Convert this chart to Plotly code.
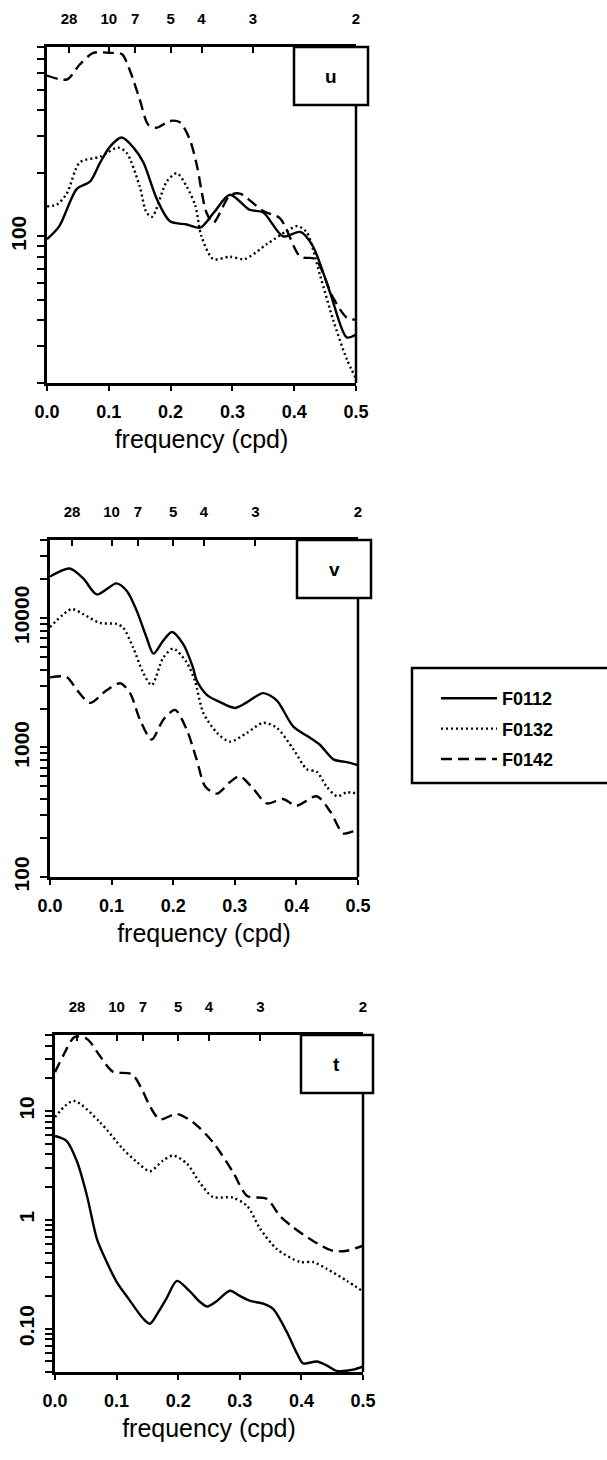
import plotly.graph_objects as go
import math

# ---------------- data ----------------
SERIES = ["F0112", "F0132", "F0142"]

period_ticks = [1/28, 1/10, 1/7, 1/5, 1/4, 1/3, 1/2]
period_labels = ["28", "10", "7", "5", "4", "3", "2"]
freq_ticks = [0.0, 0.1, 0.2, 0.3, 0.4, 0.5]
freq_labels = ["0.0", "0.1", "0.2", "0.3", "0.4", "0.5"]

# u component
u_f0112_f = [0, 0.02, 0.048, 0.07, 0.086, 0.102, 0.121, 0.14, 0.156, 0.178, 0.199, 0.226, 0.248,
             0.27, 0.296, 0.328, 0.35, 0.382, 0.41, 0.43, 0.458, 0.485, 0.5]
u_f0112 = [97, 112, 168, 183, 225, 268, 296, 265, 225, 150, 118, 114, 110,
           130, 158, 134, 130, 100, 105, 90, 54, 33, 34]
u_f0132_f = [0, 0.016, 0.032, 0.053, 0.086, 0.115, 0.129, 0.15, 0.161, 0.17, 0.194, 0.21, 0.226,
             0.24, 0.25, 0.269, 0.296, 0.32, 0.356, 0.388, 0.405, 0.42, 0.442, 0.463, 0.485, 0.5]
u_f0132 = [139, 142, 160, 225, 240, 265, 250, 173, 130, 124, 183, 200, 173,
           140, 100, 78, 80, 78, 92, 106, 112, 105, 65, 40, 26, 21]
u_f0142_f = [0, 0.032, 0.053, 0.075, 0.102, 0.121, 0.134, 0.15, 0.164, 0.178, 0.199, 0.215, 0.231,
             0.243, 0.25, 0.258, 0.269, 0.296, 0.312, 0.35, 0.377, 0.41, 0.434, 0.463, 0.485, 0.5]
u_f0142 = [585, 560, 660, 750, 750, 740, 620, 450, 340, 330, 355, 350, 290,
           215, 165, 130, 116, 157, 160, 132, 122, 80, 78, 51, 41, 40]

# v component
v_f0112_f = [0, 0.032, 0.054, 0.076, 0.108, 0.125, 0.141, 0.157, 0.168, 0.184, 0.198, 0.216, 0.232,
             0.238, 0.255, 0.276, 0.3, 0.32, 0.346, 0.368, 0.395, 0.422, 0.438, 0.46, 0.482, 0.5]
v_f0112 = [20900, 24100, 20200, 15200, 18500, 16100, 11300, 7000, 5300, 6700, 7800, 6300, 4150,
           3300, 2540, 2240, 2020, 2240, 2630, 2310, 1450, 1190, 1050, 810, 770, 730]
v_f0132_f = [0, 0.035, 0.054, 0.081, 0.108, 0.119, 0.135, 0.151, 0.165, 0.184, 0.2, 0.222, 0.235,
             0.249, 0.271, 0.292, 0.32, 0.346, 0.368, 0.395, 0.417, 0.433, 0.449, 0.466, 0.482, 0.5]
v_f0132 = [8500, 11700, 10700, 9160, 9000, 8390, 5900, 3800, 3030, 4950, 5800, 4530, 3300,
           1850, 1300, 1110, 1300, 1550, 1420, 970, 680, 650, 500, 420, 450, 440]
v_f0142_f = [0, 0.027, 0.044, 0.065, 0.092, 0.114, 0.13, 0.146, 0.165, 0.184, 0.203, 0.222, 0.238,
             0.252, 0.271, 0.292, 0.308, 0.33, 0.352, 0.378, 0.4, 0.433, 0.455, 0.476, 0.492, 0.5]
v_f0142 = [3480, 3500, 2770, 2210, 2770, 3130, 2630, 1640, 1150, 1640, 1950, 1370, 810,
           500, 440, 540, 600, 480, 370, 400, 355, 420, 320, 217, 225, 230]

# t component
t_f0112_f = [0, 0.019, 0.036, 0.052, 0.068, 0.084, 0.1, 0.119, 0.143, 0.154, 0.168, 0.181, 0.198,
             0.219, 0.235, 0.247, 0.263, 0.284, 0.3, 0.317, 0.338, 0.354, 0.376, 0.393, 0.403,
             0.425, 0.441, 0.457, 0.484, 0.5]
t_f0112 = [5.9, 5.3, 3.4, 1.66, 0.67, 0.41, 0.27, 0.19, 0.124, 0.111, 0.143, 0.19, 0.275,
           0.22, 0.177, 0.16, 0.18, 0.223, 0.2, 0.18, 0.17, 0.152, 0.094, 0.059, 0.048,
           0.05, 0.046, 0.041, 0.042, 0.045]
t_f0132_f = [0, 0.03, 0.073, 0.11, 0.133, 0.154, 0.175, 0.192, 0.214, 0.235, 0.256, 0.289, 0.312,
             0.333, 0.36, 0.398, 0.419, 0.441, 0.474, 0.5]
t_f0132 = [8.8, 12.4, 7.9, 4.5, 3.4, 2.8, 3.5, 3.9, 3.3, 2.2, 1.63, 1.6, 1.34,
           0.83, 0.54, 0.41, 0.41, 0.355, 0.275, 0.22]
t_f0142_f = [0, 0.013, 0.032, 0.052, 0.073, 0.094, 0.125, 0.143, 0.154, 0.17, 0.198, 0.224, 0.256,
             0.289, 0.312, 0.344, 0.365, 0.386, 0.419, 0.451, 0.474, 0.5]
t_f0142 = [22.8, 32, 48, 46, 32, 23, 21.8, 15, 11.1, 8.4, 9.4, 7.9, 5.2,
           2.75, 1.66, 1.56, 1.09, 0.86, 0.64, 0.52, 0.52, 0.58]

u_ticks = [20, 30, 40, 50, 60, 70, 80, 90, 100, 200, 300, 400, 500, 600, 700, 800]
u_tick_labels = ["100" if v == 100 else "" for v in u_ticks]
v_ticks = [100, 200, 300, 400, 500, 600, 700, 800, 900, 1000, 2000, 3000, 4000, 5000, 6000,
           7000, 8000, 9000, 10000, 20000, 30000, 40000]
v_tick_labels = [{100: "100", 1000: "1000", 10000: "10000"}.get(v, "") for v in v_ticks]
t_ticks = [0.04, 0.05, 0.06, 0.07, 0.08, 0.09, 0.1, 0.2, 0.3, 0.4, 0.5, 0.6, 0.7, 0.8, 0.9,
           1, 2, 3, 4, 5, 6, 7, 8, 9, 10, 20, 30, 40, 50]
t_tick_labels = [{0.1: "0.10", 1: "1", 10: "10"}.get(v, "") for v in t_ticks]

y_ranges = {"u": (20, 800), "v": (100, 40000), "t": (0.04, 50)}

panel_data = {
    "u": [(u_f0112_f, u_f0112), (u_f0132_f, u_f0132), (u_f0142_f, u_f0142)],
    "v": [(v_f0112_f, v_f0112), (v_f0132_f, v_f0132), (v_f0142_f, v_f0142)],
    "t": [(t_f0112_f, t_f0112), (t_f0132_f, t_f0132), (t_f0142_f, t_f0142)],
}
panel_ticks = {"u": (u_ticks, u_tick_labels), "v": (v_ticks, v_tick_labels), "t": (t_ticks, t_tick_labels)}

# ---------------- layout / styling ----------------
W, H = 607, 1460
FONT = "Liberation Sans, Arial, Helvetica, sans-serif"

def fx(px):
    return px / W

def fy(py):
    return 1 - py / H

# plot-area pixel boxes: (left, right, top, bottom), label box (left, right, top, bottom)
geom = {
    "u": ((47, 356, 47, 383), (294, 368, 47, 105)),
    "v": ((50, 358, 540, 877), (297, 371, 540, 598)),
    "t": ((55, 363, 1035, 1372), (301, 373, 1035, 1093)),
}
dashes = ["solid", "2px,3px", "11px,6px"]

fig = go.Figure()
layout = dict(
    width=W, height=H, margin=dict(l=0, r=0, t=0, b=0, autoexpand=False),
    paper_bgcolor="white", plot_bgcolor="white",
    font=dict(family=FONT, color="black"),
    showlegend=True,
)
shapes = []
annotations = []

for i, key in enumerate(["u", "v", "t"]):
    n = i + 1
    xa = "x" if n == 1 else f"x{n}"
    ya = "y" if n == 1 else f"y{n}"
    xt = f"x{n + 3}"
    (l, r, t, b), (bl, br, bt, bb) = geom[key]
    for j, (fq, vals) in enumerate(panel_data[key]):
        fig.add_trace(go.Scatter(
            x=fq, y=vals, mode="lines", name=SERIES[j], legendgroup=SERIES[j],
            showlegend=(n == 2),
            line=dict(color="black", width=2.4, dash=dashes[j],
                      shape="spline", smoothing=0.8),
            xaxis=xa, yaxis=ya, hoverinfo="skip",
        ))
    # invisible trace that carries the top (period) axis
    fq0, v0 = panel_data[key][0]
    fig.add_trace(go.Scatter(x=fq0, y=v0, mode="lines", opacity=0, showlegend=False,
                             xaxis=xt, yaxis=ya, hoverinfo="skip"))
    lo, hi = y_ranges[key]
    tv, tt = panel_ticks[key]
    layout["xaxis" if n == 1 else f"xaxis{n}"] = dict(
        domain=[fx(l), fx(r)], anchor=ya, range=[0, 0.5], automargin=False,
        tickvals=freq_ticks, ticktext=freq_labels,
        ticks="outside", ticklen=5, tickwidth=2, tickcolor="black",
        showline=True, linewidth=2.5, linecolor="black", showgrid=False, zeroline=False,
        tickfont=dict(size=18, weight="bold", family=FONT),
        ticklabelstandoff=6,
        title=dict(text="frequency (cpd)", font=dict(size=25, family=FONT), standoff=10),
    )
    layout[f"xaxis{n + 3}"] = dict(
        overlaying=xa, anchor=ya, side="top", range=[0, 0.5], automargin=False,
        tickvals=period_ticks, ticktext=period_labels,
        ticks="inside", ticklen=6, tickwidth=2, tickcolor="black",
        showline=True, linewidth=2.5, linecolor="black", showgrid=False, zeroline=False,
        tickfont=dict(size=15, weight="bold", family=FONT),
        ticklabelstandoff=14,
    )
    layout["yaxis" if n == 1 else f"yaxis{n}"] = dict(
        domain=[fy(b), fy(t)], anchor=xa, type="log", automargin=False,
        range=[math.log10(lo), math.log10(hi)],
        tickvals=tv, ticktext=tt, tickangle=-90,
        ticks="outside", ticklen=7, tickwidth=2, tickcolor="black",
        showline=True, linewidth=2.5, linecolor="black", showgrid=False, zeroline=False,
        tickfont=dict(size=21, weight="bold", family=FONT),
        ticklabelstandoff=3,
    )
    # right-hand frame line (below label box)
    shapes.append(dict(type="line", xref="paper", yref="paper",
                       x0=fx(r), x1=fx(r), y0=fy(bb), y1=fy(b),
                       line=dict(color="black", width=2.5)))
    # label box
    shapes.append(dict(type="rect", xref="paper", yref="paper",
                       x0=fx(bl), x1=fx(br), y0=fy(bb), y1=fy(bt),
                       line=dict(color="black", width=2.5), fillcolor="white", layer="above"))
    annotations.append(dict(xref="paper", yref="paper", x=fx((bl + br) / 2), y=fy((bt + bb) / 2),
                            text=key, showarrow=False, xanchor="center", yanchor="middle",
                            font=dict(size=19, family=FONT, weight="bold")))

# legend frame
shapes.append(dict(type="rect", xref="paper", yref="paper",
                   x0=fx(412), x1=fx(610), y0=fy(783), y1=fy(668),
                   line=dict(color="black", width=2.5), fillcolor="rgba(0,0,0,0)", layer="above"))

layout["legend"] = dict(
    x=fx(436), y=fy(680), xanchor="left", yanchor="top",
    bgcolor="rgba(0,0,0,0)", borderwidth=0,
    font=dict(size=18, weight="bold", family=FONT),
    tracegroupgap=4, itemwidth=56,
)
layout["shapes"] = shapes
layout["annotations"] = annotations
fig.update_layout(**layout)

fig.write_html("out.html")
